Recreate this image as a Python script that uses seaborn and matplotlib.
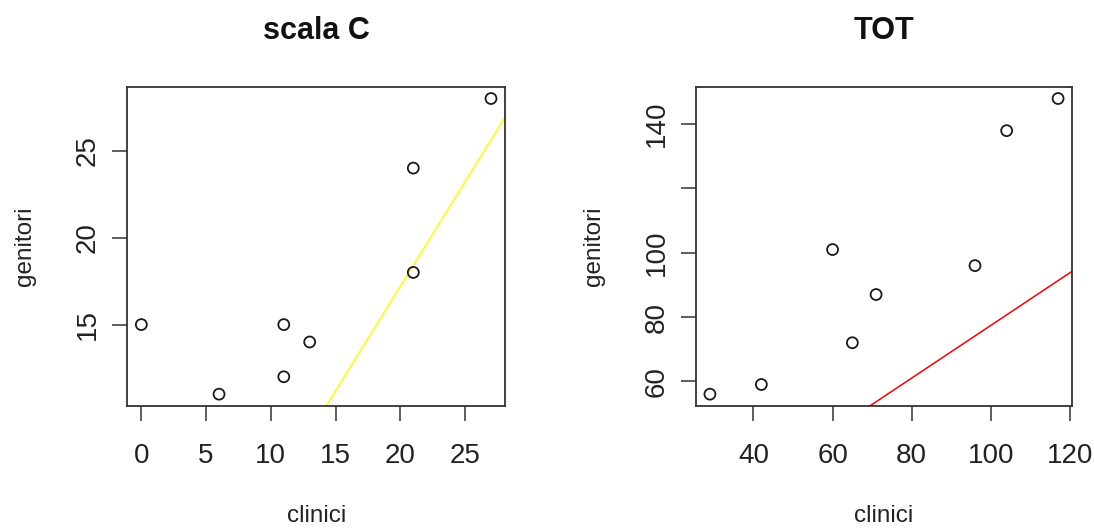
import numpy as np
import pandas as pd
import matplotlib
matplotlib.use("Agg")
import matplotlib.pyplot as plt
import seaborn as sns

# Scores given by clinicians and by parents
clinici_c = [0, 6, 11, 11, 13, 21, 21, 27]
genitori_c = [15, 11, 12, 15, 14, 24, 18, 28]

clinici_tot = [29, 42, 60, 65, 71, 96, 104, 117]
genitori_tot = [56, 59, 101, 72, 87, 96, 138, 148]

titles = ["scala C", "TOT"]
line_colors = ["#FFFF00", "#FF0000"]
x_ticks = [[0, 5, 10, 15, 20, 25], [40, 60, 80, 100, 120]]
y_ticks = [[15, 20, 25], [60, 80, 100, 120, 140]]
y_tick_labels = [["15", "20", "25"], ["60", "80", "100", "", "140"]]

sns.set_theme(style="white")
plt.rcParams["font.family"] = ["Liberation Sans", "DejaVu Sans"]

fig = plt.figure(figsize=(10.94, 5.28), dpi=100)
axes = [fig.add_axes([0.1164, 0.2311, 0.3452, 0.6047]),
        fig.add_axes([0.6362, 0.2311, 0.3437, 0.6047])]

panels = [(clinici_c, genitori_c), (clinici_tot, genitori_tot)]

for i, (ax, (cx, gy)) in enumerate(zip(axes, panels)):
    df = pd.DataFrame({"clinici": cx, "genitori": gy})
    sns.scatterplot(data=df, x="clinici", y="genitori", ax=ax,
                    marker="o", s=62, facecolor="none", edgecolor="#1a1a1a",
                    linewidth=1.3, zorder=3)

    # R-style 4% padding around the data range
    xr = max(cx) - min(cx)
    yr = max(gy) - min(gy)
    ax.set_xlim(min(cx) - 0.04 * xr, max(cx) + 0.04 * xr)
    ax.set_ylim(min(gy) - 0.04 * yr, max(gy) + 0.04 * yr)

    # Fit clinici ~ genitori and draw it with abline semantics
    slope, intercept = np.polyfit(gy, cx, 1)
    ax.axline((0, intercept), slope=slope, color=line_colors[i], lw=1.1, zorder=2)

    ax.set_xticks(x_ticks[i])
    ax.set_xticklabels([str(v) for v in x_ticks[i]])
    ax.set_yticks(y_ticks[i])
    ax.set_yticklabels(y_tick_labels[i], rotation=90, va="center")

    ax.tick_params(axis="both", which="major", direction="out", length=11,
                   width=1.1, color="#333333", labelsize=20, labelcolor="#222222",
                   bottom=True, left=True)
    ax.tick_params(axis="x", pad=16)
    ax.tick_params(axis="y", pad=8)

    for sp in ax.spines.values():
        sp.set_visible(True)
        sp.set_color("#333333")
        sp.set_linewidth(1.3)

    ax.set_xlabel("clinici", fontsize=17.5, color="#222222")
    ax.set_ylabel("genitori", fontsize=17.5, color="#222222")
    ax.xaxis.set_label_coords(0.5, -0.31)
    ax.yaxis.label.set_rotation_mode("default")
    ax.yaxis.label.set_va("center")
    ax.yaxis.set_label_coords(-0.27, 0.5)

    ax.set_title(titles[i], fontsize=22, fontweight="bold", pad=34, color="#111111")
    ax.grid(False)

fig.savefig("out.png", dpi=100, facecolor="white")
